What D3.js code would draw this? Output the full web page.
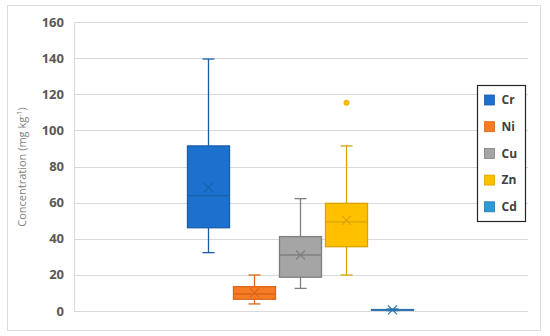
<!DOCTYPE html>
<html>
<head>
<meta charset="utf-8">
<script src="https://cdn.jsdelivr.net/npm/d3@7"></script>
<style>
  body { margin: 0; background: #fff; }
  text { font-family: "Open Sans", sans-serif; }
</style>
</head>
<body>
<div id="chart"></div>
<script>
// data
const metals = ["Cr", "Ni", "Cu", "Zn", "Cd"];
const whiskerLow = [32.3, 3.9, 12.5, 19.9, 0.2];
const q1 = [46.1, 6.5, 18.7, 35.6, 0.4];
const median = [63.9, 9.4, 31.0, 49.3, 0.6];
const q3 = [91.4, 13.5, 41.2, 59.6, 0.8];
const whiskerHigh = [139.5, 19.9, 62.2, 91.4, 1.1];
const means = [68.3, 10.1, 31.0, 50.2, 0.6];
const outliers = [[], [], [], [115.3], []];
const yTicks = [0, 20, 40, 60, 80, 100, 120, 140, 160];

const fills = ["#1c71cf", "#f77b22", "#a5a5a5", "#ffc000", "#2a9ad8"];
const strokes = ["#1a5ea8", "#d8661c", "#7f7f7f", "#dba300", "#2a73b0"];

const width = 550, height = 336;
const plot = { left: 74, right: 528, top: 22, bottom: 311 };

const svg = d3.select("#chart").append("svg")
    .attr("width", width)
    .attr("height", height);

// outer frame
svg.append("rect")
    .attr("x", 7.5).attr("y", 5.5)
    .attr("width", 533).attr("height", 325)
    .attr("fill", "#fff")
    .attr("stroke", "#dcdcdc");

const y = d3.scaleLinear().domain([0, 160]).range([plot.bottom, plot.top]);
const x = d3.scaleBand().domain(metals)
    .range([187.5, 413.5])
    .paddingInner(0.087)
    .paddingOuter(0);

// gridlines
svg.append("g")
    .selectAll("line")
    .data(yTicks)
    .join("line")
    .attr("x1", plot.left).attr("x2", plot.right)
    .attr("y1", d => Math.round(y(d)) + 0.5)
    .attr("y2", d => Math.round(y(d)) + 0.5)
    .attr("stroke", "#d9d9d9")
    .attr("stroke-width", 1);

// y axis line
svg.append("line")
    .attr("x1", plot.left + 0.5).attr("x2", plot.left + 0.5)
    .attr("y1", plot.top).attr("y2", plot.bottom)
    .attr("stroke", "#d9d9d9");

// tick labels
svg.append("g")
    .selectAll("text")
    .data(yTicks)
    .join("text")
    .attr("x", 64)
    .attr("y", d => y(d))
    .attr("dy", "0.35em")
    .attr("text-anchor", "end")
    .attr("font-size", 13)
    .attr("font-weight", "bold")
    .attr("fill", "#595959")
    .text(d => d);

// axis title
const title = svg.append("text")
    .attr("transform", "translate(26,167) rotate(-90)")
    .attr("text-anchor", "middle")
    .attr("font-size", 11)
    .attr("fill", "#808080");
title.append("tspan").text("Concentration (mg kg");
title.append("tspan").attr("dy", -4).attr("font-size", 7).text("-1");
title.append("tspan").attr("dy", 4).text(")");

// boxes
const bw = x.bandwidth();
const boxes = svg.append("g")
    .selectAll("g")
    .data(metals)
    .join("g")
    .attr("transform", d => `translate(${x(d)},0)`);

boxes.each(function (d, i) {
    const g = d3.select(this);
    const cx = bw / 2;
    const cap = 6;
    // whiskers
    g.append("line")
        .attr("x1", cx).attr("x2", cx)
        .attr("y1", y(whiskerHigh[i])).attr("y2", y(q3[i]))
        .attr("stroke", strokes[i]).attr("stroke-width", 1.3);
    g.append("line")
        .attr("x1", cx).attr("x2", cx)
        .attr("y1", y(q1[i])).attr("y2", y(whiskerLow[i]))
        .attr("stroke", strokes[i]).attr("stroke-width", 1.3);
    [whiskerHigh[i], whiskerLow[i]].forEach(v => {
        g.append("line")
            .attr("x1", cx - cap).attr("x2", cx + cap)
            .attr("y1", y(v)).attr("y2", y(v))
            .attr("stroke", strokes[i]).attr("stroke-width", 1.3);
    });
    // box
    g.append("rect")
        .attr("x", 0).attr("width", bw)
        .attr("y", y(q3[i]))
        .attr("height", Math.max(y(q1[i]) - y(q3[i]), 0.1))
        .attr("fill", fills[i])
        .attr("stroke", strokes[i])
        .attr("stroke-width", 1.3);
    // median
    g.append("line")
        .attr("x1", 0).attr("x2", bw)
        .attr("y1", y(median[i])).attr("y2", y(median[i]))
        .attr("stroke", strokes[i]).attr("stroke-width", 1.3);
    // mean marker
    const my = y(means[i]), s = 4.5;
    g.append("path")
        .attr("d", `M${cx - s},${my - s}L${cx + s},${my + s}M${cx - s},${my + s}L${cx + s},${my - s}`)
        .attr("stroke", strokes[i]).attr("stroke-width", 1.2)
        .attr("fill", "none");
    // outliers
    g.selectAll("circle")
        .data(outliers[i])
        .join("circle")
        .attr("cx", cx)
        .attr("cy", v => y(v))
        .attr("r", 2.6)
        .attr("fill", fills[i])
        .attr("stroke", strokes[i])
        .attr("stroke-width", 0.8);
});

// legend
const legend = svg.append("g").attr("transform", "translate(477.5,85.5)");
legend.append("rect")
    .attr("width", 48).attr("height", 136)
    .attr("fill", "#fff")
    .attr("stroke", "#262626")
    .attr("stroke-width", 1.2);

const items = legend.selectAll("g.item")
    .data(metals)
    .join("g")
    .attr("class", "item")
    .attr("transform", (d, i) => `translate(0,${14.5 + i * 26.7})`);

items.append("rect")
    .attr("x", 7).attr("y", -5)
    .attr("width", 10).attr("height", 10)
    .attr("fill", (d, i) => fills[i])
    .attr("stroke", (d, i) => strokes[i])
    .attr("stroke-width", 0.8);

items.append("text")
    .attr("x", 24)
    .attr("dy", "0.36em")
    .attr("font-size", 12)
    .attr("font-weight", "bold")
    .attr("fill", "#404040")
    .text(d => d);
</script>
</body>
</html>
